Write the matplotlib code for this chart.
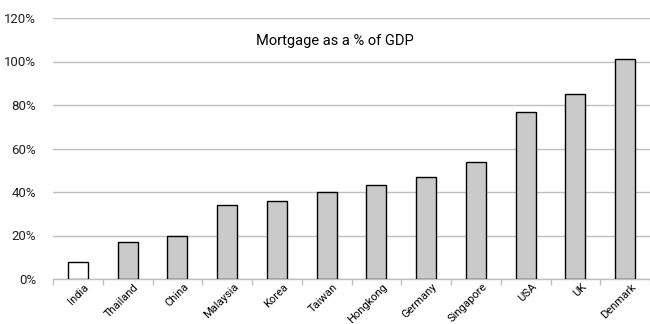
import matplotlib.pyplot as plt
import numpy as np
from matplotlib.ticker import FuncFormatter
import matplotlib.transforms as mtransforms

plt.rcParams['font.family'] = ['Roboto', 'DejaVu Sans']

# Data
countries = ['India', 'Thailand', 'China', 'Malaysia', 'Korea', 'Taiwan',
             'Hongkong', 'Germany', 'Singapore', 'USA', 'UK', 'Denmark']
mortgage_pct = [8, 17, 20, 34, 36, 40, 43, 47, 54, 77, 85, 101]
bar_colors = ['white'] + ['#c9cac9'] * 11

fig = plt.figure(figsize=(6.5, 3.24), dpi=100)
ax = fig.add_axes([53 / 650, 45 / 324, 597 / 650, 261 / 324])

x = np.arange(len(countries))
ax.bar(x, mortgage_pct, width=0.4, color=bar_colors, edgecolor='black',
       linewidth=1.0, zorder=3)

ax.set_xlim(-0.5, len(countries) - 0.5)
ax.set_ylim(0, 120)
ax.set_yticks(range(0, 121, 20))
ax.yaxis.set_major_formatter(FuncFormatter(lambda v, p: f'{int(v)}%'))
ax.grid(axis='y', color='#bfbfbf', linewidth=1.0, zorder=0)
ax.tick_params(axis='y', length=0, labelsize=9.5, pad=12, colors='#222222')

# labels at bar centres, small ticks at category boundaries
ax.set_xticks(x)
ax.set_xticklabels(countries, rotation=45, ha='right', rotation_mode='anchor',
                   fontsize=8)
ax.tick_params(axis='x', which='major', length=0, pad=2)
# nudge labels a little to the right, as in the reference
offset = mtransforms.ScaledTranslation(6 / 100, 0, fig.dpi_scale_trans)
for lbl in ax.get_xticklabels():
    lbl.set_transform(lbl.get_transform() + offset)
ax.set_xticks(np.arange(-0.5, len(countries), 1), minor=True)
ax.tick_params(axis='x', which='minor', length=4, color='#bfbfbf', width=1)

for s in ['top', 'right', 'left']:
    ax.spines[s].set_visible(False)
ax.spines['bottom'].set_color('#bfbfbf')
ax.spines['bottom'].set_linewidth(1.0)

fig.text(335 / 650, 1 - 41 / 324, 'Mortgage as a % of GDP', ha='center',
         va='center', fontsize=10.5)

plt.savefig('out.png', dpi=100)
